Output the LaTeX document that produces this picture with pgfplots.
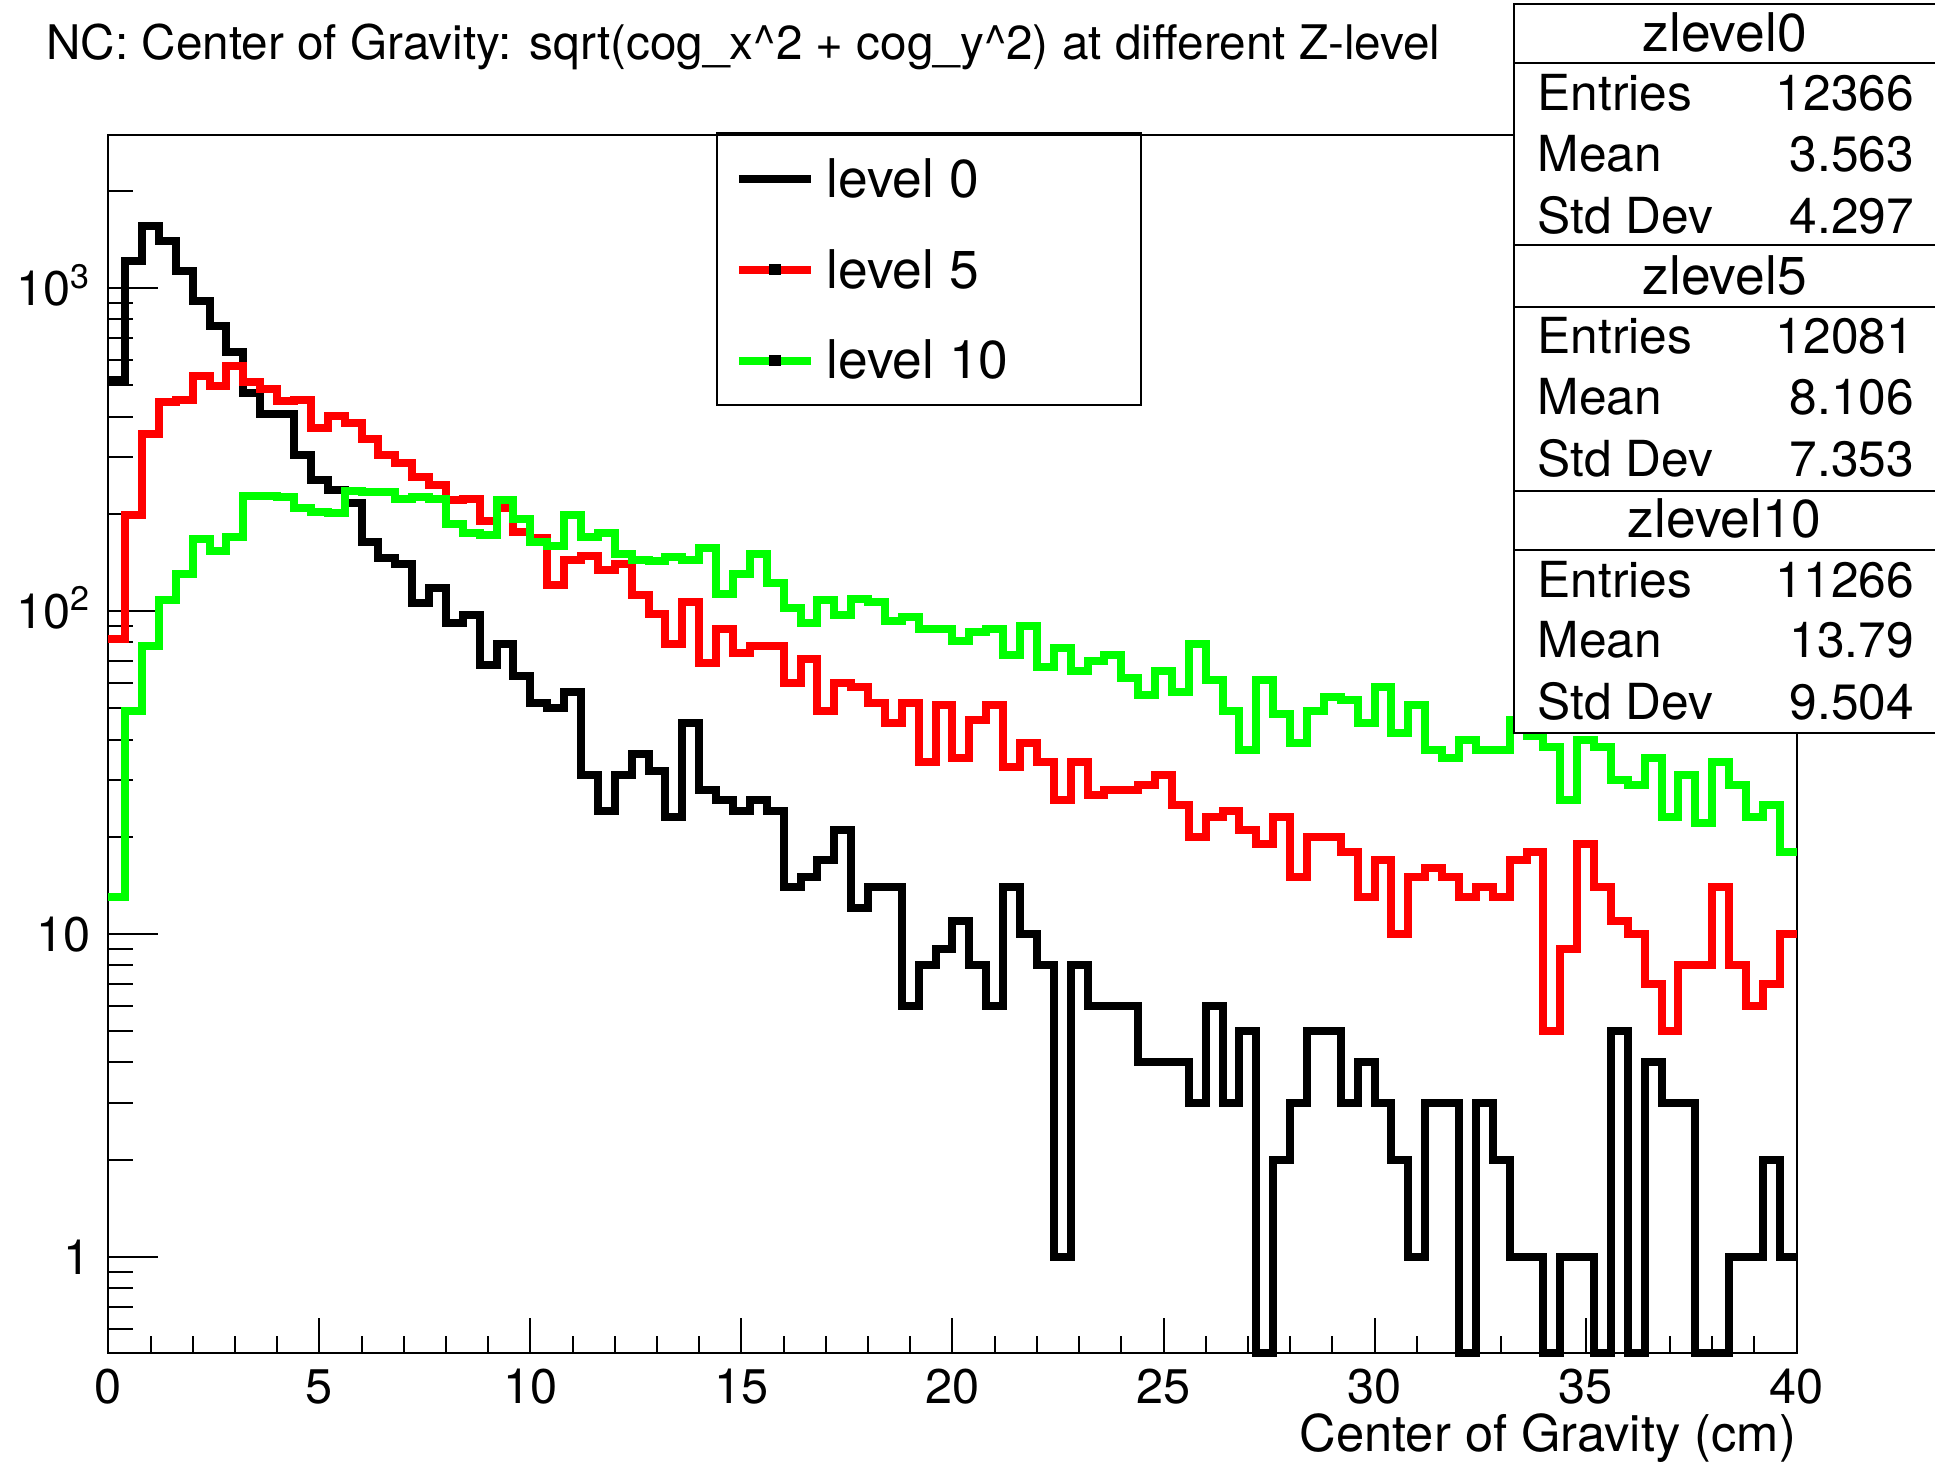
\documentclass[border=0pt]{standalone}
\usepackage{pgfplots}
\pgfplotsset{compat=1.18}
\usepackage{pgfplotstable}
\usepackage{fontspec}
\setmainfont{TeX Gyre Heros}

% legend line with the small marker dot that ROOT draws for level 5/10
\pgfplotsset{dotlegend/.style={legend image code/.code={%
  \draw[##1] (0pt,0pt) -- (21.6pt,0pt);
  \fill[black] (10.3pt,-0.5pt) rectangle (11.3pt,0.5pt);}}}

% bin left edge, contents of the three histograms (zero bins set to ymin)
\pgfplotstableread{
x    l0    l5   l10
0.0  521   82   13
0.4  1213  199  49
0.8  1553  353  78
1.2  1399  444  108
1.6  1127  450  130
2.0  914   534  167
2.4  761   499  153
2.8  634   572  170
3.2  474   512  227
3.6  409   486  227
4.0  409   447  225
4.4  305   450  209
4.8  255   369  203
5.2  237   401  201
5.6  216   381  235
6.0  164   340  234
6.4  146   305  234
6.8  140   288  222
7.2  106   260  225
7.6  118   246  223
8.0  92    220  186
8.4  97    222  175
8.8  68    190  172
9.2  79    209  221
9.6  63    176  193
10.0 52    168  164
10.4 50    120  159
10.8 56    144  199
11.2 31    148  169
11.6 24    134  174
12.0 31    140  150
12.4 36    112  144
12.8 32    98   143
13.2 23    79   147
13.6 45    107  144
14.0 28    69   157
14.4 26    88   113
14.8 24    74   130
15.2 26    78   150
15.6 24    78   122
16.0 14    60   102
16.4 15    71   92
16.8 17    49   108
17.2 21    60   97
17.6 12    58   109
18.0 14    52   107
18.4 14    45   93
18.8 6     52   96
19.2 8     34   88
19.6 9     51   88
20.0 11    35   81
20.4 8     46   86
20.8 6     51   88
21.2 14    33   73
21.6 10    39   90
22.0 8     34   67
22.4 1     26   77
22.8 8     34   65
23.2 6     27   70
23.6 6     28   73
24.0 6     28   62
24.4 4     29   55
24.8 4     31   65
25.2 4     25   56
25.6 3     20   79
26.0 6     23   61
26.4 3     24   49
26.8 5     21   37
27.2 0.504 19   61
27.6 2     23   48
28.0 3     15   39
28.4 5     20   49
28.8 5     20   54
29.2 3     18   53
29.6 4     13   45
30.0 3     17   58
30.4 2     10   42
30.8 1     15   51
31.2 3     16   37
31.6 3     15   35
32.0 0.504 13   40
32.4 3     14   37
32.8 2     13   37
33.2 1     17   46
33.6 1     18   41
34.0 0.504 5    38
34.4 1     9    26
34.8 1     19   40
35.2 0.504 14   38
35.6 5     11   30
36.0 0.504 10   29
36.4 4     7    35
36.8 3     5    23
37.2 3     8    31
37.6 0.504 8    22
38.0 0.504 14   34
38.4 1     8    29
38.8 1     6    23
39.2 2     7    25
39.6 1     10   18
40.0 1     10   18
}\histdata

\begin{document}
\begin{tikzpicture}
\useasboundingbox (-32.49pt,-35.1pt) rectangle (548.01pt,405.9pt);
\begin{axis}[
  at={(0pt,0pt)}, anchor=south west,
  scale only axis, width=506.5pt, height=365.4pt,
  xmin=0, xmax=40, ymode=log, ymin=0.504, ymax=2980,
  clip=false,
  axis line style={line width=0.6pt},
  tick pos=left, tick align=inside,
  xtick={0,5,10,15,20,25,30,35,40},
  xticklabels={0,5,10,15,20,25,30,35,40},
  minor xtick={1,2,3,4,6,7,8,9,11,12,13,14,16,17,18,19,21,22,23,24,26,27,28,29,31,32,33,34,36,37,38,39},
  ytick={1,10,100,1000},
  yticklabels={1,10,10\textsuperscript{2},10\textsuperscript{3}},
  minor ytick={0.6,0.7,0.8,0.9,2,3,4,5,6,7,8,9,20,30,40,50,60,70,80,90,200,300,400,500,600,700,800,900,2000},
  xtick style={line width=0.6pt, black, /pgfplots/major tick length=10.5pt, /pgfplots/minor tick length=5.2pt},
  ytick style={line width=0.6pt, black, /pgfplots/major tick length=15pt, /pgfplots/minor tick length=7.5pt},
  tick label style={font=\fontsize{14.6}{17}\selectfont, inner sep=0pt},
  xticklabel style={anchor=base, yshift=-15.2pt},
  yticklabel style={anchor=base east, xshift=-5pt, yshift=-5.2pt},
  xlabel={Center of Gravity (cm)},
  xlabel style={at={(axis description cs:1,0)}, anchor=base east, yshift=-29.6pt, inner sep=0pt, font=\fontsize{15.2}{18}\selectfont},
  legend cell align=left,
  legend image code/.code={\draw[#1] (0pt,0pt) -- (21.6pt,0pt);},
  legend style={at={(axis description cs:0.37078,0.98224)}, anchor=north west,
    draw=none, fill=none, inner sep=0pt, row sep=14.25pt, column sep=3.5pt,
    font=\fontsize{16}{19}\selectfont,
    nodes={inner sep=0pt, text height=12pt, text depth=1pt}},
]
\addplot[const plot mark left, no markers, black, line width=2.4pt] table[x=x, y=l0] {\histdata};
\addlegendentry{level 0}
\addplot[const plot mark left, no markers, red, line width=2.4pt, dotlegend] table[x=x, y=l5] {\histdata};
\addlegendentry{level 5}
\addplot[const plot mark left, no markers, green, line width=2.4pt, dotlegend] table[x=x, y=l10] {\histdata};
\addlegendentry{level 10}
\end{axis}

% title
\node[anchor=base west, inner sep=0pt, font=\fontsize{14.3}{17}\selectfont] at (-18.7pt,388.11pt)
  {NC: Center of Gravity: sqrt(cog\_x\textasciicircum 2 + cog\_y\textasciicircum 2) at different Z-level};

% legend frame
\draw[line width=0.6pt] (182.7pt,284.4pt) rectangle (309.7pt,366.09pt);

% statistics boxes
\begin{scope}[line width=0.6pt, font=\fontsize{14.9}{17}\selectfont]
  \draw[fill=white] (421.7pt,186.0pt) rectangle (549.5pt,404.76pt);
  \draw (421.7pt,332.28pt) -- (549.5pt,332.28pt);
  \draw (421.7pt,258.66pt) -- (549.5pt,258.66pt);
  \draw (421.7pt,387.06pt) -- (549.5pt,387.06pt);
  \draw (421.7pt,313.89pt) -- (549.5pt,313.89pt);
  \draw (421.7pt,240.96pt) -- (549.5pt,240.96pt);
  \node[anchor=base, inner sep=0pt, font=\fontsize{16}{19}\selectfont] at (484.9pt,390.3pt) {zlevel0};
  \node[anchor=base west, inner sep=0pt] at (428.5pt,372.6pt) {Entries};
  \node[anchor=base east, inner sep=0pt] at (542.0pt,372.6pt) {12366};
  \node[anchor=base west, inner sep=0pt] at (428.5pt,354.3pt) {Mean};
  \node[anchor=base east, inner sep=0pt] at (542.0pt,354.3pt) {3.563};
  \node[anchor=base west, inner sep=0pt] at (428.5pt,335.82pt) {Std Dev};
  \node[anchor=base east, inner sep=0pt] at (542.0pt,335.82pt) {4.297};
  \node[anchor=base, inner sep=0pt, font=\fontsize{16}{19}\selectfont] at (484.9pt,317.4pt) {zlevel5};
  \node[anchor=base west, inner sep=0pt] at (428.5pt,299.7pt) {Entries};
  \node[anchor=base east, inner sep=0pt] at (542.0pt,299.7pt) {12081};
  \node[anchor=base west, inner sep=0pt] at (428.5pt,281.4pt) {Mean};
  \node[anchor=base east, inner sep=0pt] at (542.0pt,281.4pt) {8.106};
  \node[anchor=base west, inner sep=0pt] at (428.5pt,262.92pt) {Std Dev};
  \node[anchor=base east, inner sep=0pt] at (542.0pt,262.92pt) {7.353};
  \node[anchor=base, inner sep=0pt, font=\fontsize{16}{19}\selectfont] at (484.9pt,244.5pt) {zlevel10};
  \node[anchor=base west, inner sep=0pt] at (428.5pt,226.5pt) {Entries};
  \node[anchor=base east, inner sep=0pt] at (542.0pt,226.5pt) {11266};
  \node[anchor=base west, inner sep=0pt] at (428.5pt,208.5pt) {Mean};
  \node[anchor=base east, inner sep=0pt] at (542.0pt,208.5pt) {13.79};
  \node[anchor=base west, inner sep=0pt] at (428.5pt,189.99pt) {Std Dev};
  \node[anchor=base east, inner sep=0pt] at (542.0pt,189.99pt) {9.504};
\end{scope}
\end{tikzpicture}
\end{document}
